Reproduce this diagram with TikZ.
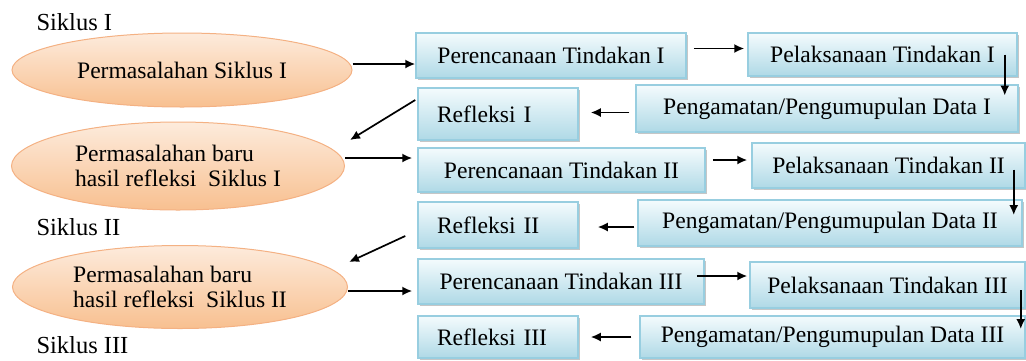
\documentclass[tikz,border=0pt]{standalone}
\usepackage{fontspec}
\setmainfont{Liberation Serif}
\usetikzlibrary{arrows.meta,shadows,shapes.geometric}
\definecolor{boxtop}{HTML}{F4FBFD}
\definecolor{boxbot}{HTML}{AFD9E6}
\definecolor{boxline}{HTML}{98CEE0}
\definecolor{elltop}{HTML}{FDEBDC}
\definecolor{ellbot}{HTML}{F8C090}
\definecolor{ellline}{HTML}{F4B183}
\begin{document}
\begin{tikzpicture}[x=1pt,y=-1pt,font=\fontsize{23.6}{25}\selectfont,
box/.style={draw=boxline, line width=1.5pt, top color=boxtop, bottom color=boxbot, inner sep=0pt, drop shadow={shadow xshift=2pt,shadow yshift=-2pt,opacity=.45}},
refbox/.style={box, text width=122pt, inner xsep=19pt, align=left},
oval/.style={ellipse, draw=ellline, line width=1pt, top color=elltop, bottom color=ellbot, inner sep=0pt, align=left},
arr/.style={-{Latex[length=10pt,width=9pt]}, line width=1.7pt}]
\useasboundingbox (0,0) rectangle (1026,360);
\node[anchor=base west, font=\fontsize{24.5}{26}\selectfont] (s1) at (33,30){Siklus I};
\node[anchor=base west, font=\fontsize{24.5}{26}\selectfont] (s2) at (33,235){Siklus II};
\node[anchor=base west, font=\fontsize{24.5}{26}\selectfont] (s3) at (33,353){Siklus III};
\node[oval, minimum width=340pt, minimum height=74pt] (e1) at (182,70){Permasalahan Siklus I};
\node[oval, minimum width=333pt, minimum height=88pt] (e2) at (178,166){Permasalahan baru\\hasil refleksi\ \ Siklus I};
\node[oval, minimum width=335pt, minimum height=83pt] (e3) at (180,287){Permasalahan baru\\hasil refleksi\ \ Siklus II};
% siklus I
\node[box, minimum width=270pt, minimum height=45pt] (p1) at (551,55.5){Perencanaan Tindakan I};
\node[box, minimum width=269pt, minimum height=43pt] (l1) at (882.5,54.5){Pelaksanaan Tindakan I};
\node[box, minimum width=382pt, minimum height=47pt] (g1) at (827,108.5){Pengamatan/Pengumupulan Data I};
\node[refbox, minimum height=52pt] (r1) at (498,114){Refleksi I};
\draw[arr]([yshift=6pt]e1.east) -- ([yshift=6pt]e1.east -| p1.west);
\draw[arr]([xshift=7pt,yshift=7pt]p1.east) -- ([xshift=-3pt,yshift=7pt]p1.east -| l1.west);
\draw[arr]([xshift=-13pt]l1.east) -- ([xshift=-14pt,yshift=13pt]g1.east);
\draw[arr]([xshift=-6pt,yshift=-4pt]g1.west) -- ([xshift=12pt,yshift=-4pt]g1.west -| r1.east);
\draw[arr]([xshift=-2pt,yshift=14pt]r1.west) -- ([xshift=5pt,yshift=26pt]e2.east);
% siklus II
\node[box, minimum width=287pt, minimum height=44pt] (p2) at (561.5,170){Perencanaan Tindakan II};
\node[box, minimum width=273pt, minimum height=45pt] (l2) at (888.5,165.5){Pelaksanaan Tindakan II};
\node[box, minimum width=384pt, minimum height=46pt] (g2) at (830,223){Pengamatan/Pengumupulan Data II};
\node[refbox, minimum height=46pt] (r2) at (498,225){Refleksi II};
\draw[arr]([yshift=8pt]e2.east) -- ([xshift=-5pt,yshift=8pt]e2.east -| p2.west);
\draw[arr]([xshift=7pt,yshift=10pt]p2.east) -- ([xshift=-4pt,yshift=10pt]p2.east -| l2.west);
\draw[arr]([xshift=-12pt,yshift=-4pt]l2.east) -- ([xshift=-9pt,yshift=8pt]g2.east);
\draw[arr]([xshift=-3pt,yshift=-4pt]g2.west) -- ([xshift=19pt,yshift=-4pt]g2.west -| r2.east);
\draw[arr]([xshift=-12pt,yshift=-11pt]r2.west) -- ([xshift=1pt,yshift=25pt]e3.east);
% siklus III
\node[box, minimum width=286pt, minimum height=45pt] (p3) at (561,281.5){Perencanaan Tindakan III};
\node[box, minimum width=275pt, minimum height=46pt] (l3) at (887.5,285){Pelaksanaan Tindakan III};
\node[box, minimum width=385pt, minimum height=42pt] (g3) at (832.5,337){Pengamatan/Pengumupulan Data III};
\node[refbox, minimum height=42pt] (r3) at (498,337){Refleksi III};
\draw[arr]([yshift=-4pt]e3.east) -- ([xshift=-5pt,yshift=-4pt]e3.east -| p3.west);
\draw[arr]([xshift=-8pt,yshift=5.5pt]p3.east) -- ([xshift=-2pt,yshift=5.5pt]p3.east -| l3.west);
\draw[arr]([xshift=-5pt,yshift=-5pt]l3.east) -- ([xshift=-5pt,yshift=8pt]g3.east);
\draw[arr]([xshift=-8pt]g3.west) -- ([xshift=12pt]g3.west -| r3.east);
\end{tikzpicture}
\end{document}
